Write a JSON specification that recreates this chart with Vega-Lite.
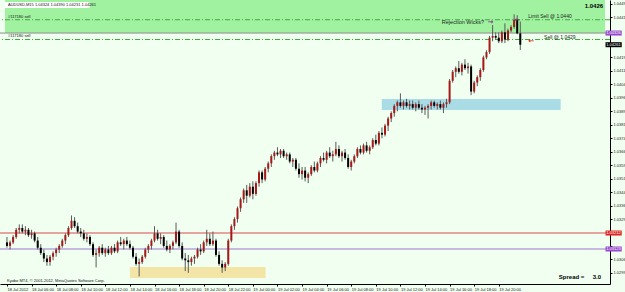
{
"$schema": "https://vega.github.io/schema/vega-lite/v6.json",
"width": 610, "height": 284,
"autosize": {"type": "none"},
"padding": {"left": 0, "top": 0, "right": 15, "bottom": 8},
"background": "#f0fff0",
"config": {"view": {"stroke": null},
"axis": {"grid": false, "labelOverlap": false, "labelFlush": false, "labelBound": false, "labelFontSize": 4, "labelFont": "Liberation Sans", "labelColor": "#222", "labelPadding": 1, "tickSize": 2, "tickColor": "#000", "domainColor": "#000", "title": null},
"axisX": {"labelAlign": "left", "labelBaseline": "top"},
"axisY": {"labelAlign": "left", "labelBaseline": "middle"}},
"datasets": {
"candles": [
{"t":"2012-07-18T04:00","o":1.0316,"h":1.0319,"l":1.0313,"c":1.0314},
{"t":"2012-07-18T04:15","o":1.0314,"h":1.0317,"l":1.0312,"c":1.0316},
{"t":"2012-07-18T04:30","o":1.0316,"h":1.0320,"l":1.0315,"c":1.0319},
{"t":"2012-07-18T04:45","o":1.0319,"h":1.0324,"l":1.0318,"c":1.0323},
{"t":"2012-07-18T05:00","o":1.0323,"h":1.0326,"l":1.0321,"c":1.0324},
{"t":"2012-07-18T05:15","o":1.0324,"h":1.0326,"l":1.0321,"c":1.0322},
{"t":"2012-07-18T05:30","o":1.0322,"h":1.0325,"l":1.0320,"c":1.0323},
{"t":"2012-07-18T05:45","o":1.0323,"h":1.0324,"l":1.0319,"c":1.0320},
{"t":"2012-07-18T06:00","o":1.0320,"h":1.0323,"l":1.0318,"c":1.0321},
{"t":"2012-07-18T06:15","o":1.0321,"h":1.0322,"l":1.0316,"c":1.0317},
{"t":"2012-07-18T06:30","o":1.0317,"h":1.0319,"l":1.0312,"c":1.0313},
{"t":"2012-07-18T06:45","o":1.0313,"h":1.0315,"l":1.0309,"c":1.0310},
{"t":"2012-07-18T07:00","o":1.0310,"h":1.0312,"l":1.0305,"c":1.0307},
{"t":"2012-07-18T07:15","o":1.0307,"h":1.0309,"l":1.0303,"c":1.0305},
{"t":"2012-07-18T07:30","o":1.0305,"h":1.0309,"l":1.0303,"c":1.0308},
{"t":"2012-07-18T07:45","o":1.0308,"h":1.0311,"l":1.0306,"c":1.0310},
{"t":"2012-07-18T08:00","o":1.0310,"h":1.0313,"l":1.0308,"c":1.0312},
{"t":"2012-07-18T08:15","o":1.0312,"h":1.0315,"l":1.0310,"c":1.0314},
{"t":"2012-07-18T08:30","o":1.0314,"h":1.0318,"l":1.0313,"c":1.0317},
{"t":"2012-07-18T08:45","o":1.0317,"h":1.0321,"l":1.0315,"c":1.0320},
{"t":"2012-07-18T09:00","o":1.0320,"h":1.0325,"l":1.0319,"c":1.0324},
{"t":"2012-07-18T09:15","o":1.0324,"h":1.0331,"l":1.0323,"c":1.0328},
{"t":"2012-07-18T09:30","o":1.0328,"h":1.0330,"l":1.0324,"c":1.0325},
{"t":"2012-07-18T09:45","o":1.0325,"h":1.0327,"l":1.0321,"c":1.0322},
{"t":"2012-07-18T10:00","o":1.0322,"h":1.0324,"l":1.0319,"c":1.0321},
{"t":"2012-07-18T10:15","o":1.0321,"h":1.0323,"l":1.0317,"c":1.0318},
{"t":"2012-07-18T10:30","o":1.0318,"h":1.0321,"l":1.0316,"c":1.0319},
{"t":"2012-07-18T10:45","o":1.0319,"h":1.0320,"l":1.0314,"c":1.0315},
{"t":"2012-07-18T11:00","o":1.0315,"h":1.0316,"l":1.0308,"c":1.0309},
{"t":"2012-07-18T11:15","o":1.0309,"h":1.0312,"l":1.0302,"c":1.0310},
{"t":"2012-07-18T11:30","o":1.0310,"h":1.0314,"l":1.0308,"c":1.0313},
{"t":"2012-07-18T11:45","o":1.0313,"h":1.0315,"l":1.0309,"c":1.0310},
{"t":"2012-07-18T12:00","o":1.0310,"h":1.0313,"l":1.0308,"c":1.0312},
{"t":"2012-07-18T12:15","o":1.0312,"h":1.0314,"l":1.0309,"c":1.0310},
{"t":"2012-07-18T12:30","o":1.0310,"h":1.0314,"l":1.0309,"c":1.0313},
{"t":"2012-07-18T12:45","o":1.0313,"h":1.0315,"l":1.0310,"c":1.0311},
{"t":"2012-07-18T13:00","o":1.0311,"h":1.0317,"l":1.0310,"c":1.0316},
{"t":"2012-07-18T13:15","o":1.0316,"h":1.0319,"l":1.0314,"c":1.0315},
{"t":"2012-07-18T13:30","o":1.0315,"h":1.0318,"l":1.0312,"c":1.0317},
{"t":"2012-07-18T13:45","o":1.0317,"h":1.0319,"l":1.0314,"c":1.0315},
{"t":"2012-07-18T14:00","o":1.0315,"h":1.0317,"l":1.0312,"c":1.0313},
{"t":"2012-07-18T14:15","o":1.0313,"h":1.0314,"l":1.0307,"c":1.0308},
{"t":"2012-07-18T14:30","o":1.0308,"h":1.0310,"l":1.0303,"c":1.0304},
{"t":"2012-07-18T14:45","o":1.0304,"h":1.0307,"l":1.0297,"c":1.0305},
{"t":"2012-07-18T15:00","o":1.0305,"h":1.0309,"l":1.0304,"c":1.0308},
{"t":"2012-07-18T15:15","o":1.0308,"h":1.0313,"l":1.0307,"c":1.0312},
{"t":"2012-07-18T15:30","o":1.0312,"h":1.0315,"l":1.0310,"c":1.0314},
{"t":"2012-07-18T15:45","o":1.0314,"h":1.0318,"l":1.0312,"c":1.0317},
{"t":"2012-07-18T16:00","o":1.0317,"h":1.0325,"l":1.0316,"c":1.0321},
{"t":"2012-07-18T16:15","o":1.0321,"h":1.0323,"l":1.0317,"c":1.0318},
{"t":"2012-07-18T16:30","o":1.0318,"h":1.0321,"l":1.0315,"c":1.0319},
{"t":"2012-07-18T16:45","o":1.0319,"h":1.0320,"l":1.0313,"c":1.0314},
{"t":"2012-07-18T17:00","o":1.0314,"h":1.0317,"l":1.0311,"c":1.0312},
{"t":"2012-07-18T17:15","o":1.0312,"h":1.0315,"l":1.0310,"c":1.0314},
{"t":"2012-07-18T17:30","o":1.0314,"h":1.0317,"l":1.0312,"c":1.0316},
{"t":"2012-07-18T17:45","o":1.0316,"h":1.0327,"l":1.0315,"c":1.0322},
{"t":"2012-07-18T18:00","o":1.0322,"h":1.0323,"l":1.0313,"c":1.0314},
{"t":"2012-07-18T18:15","o":1.0314,"h":1.0316,"l":1.0306,"c":1.0307},
{"t":"2012-07-18T18:30","o":1.0307,"h":1.0310,"l":1.0300,"c":1.0306},
{"t":"2012-07-18T18:45","o":1.0306,"h":1.0309,"l":1.0299,"c":1.0305},
{"t":"2012-07-18T19:00","o":1.0305,"h":1.0308,"l":1.0303,"c":1.0307},
{"t":"2012-07-18T19:15","o":1.0307,"h":1.0309,"l":1.0304,"c":1.0308},
{"t":"2012-07-18T19:30","o":1.0308,"h":1.0313,"l":1.0307,"c":1.0312},
{"t":"2012-07-18T19:45","o":1.0312,"h":1.0315,"l":1.0309,"c":1.0311},
{"t":"2012-07-18T20:00","o":1.0311,"h":1.0317,"l":1.0310,"c":1.0316},
{"t":"2012-07-18T20:15","o":1.0316,"h":1.0323,"l":1.0314,"c":1.0318},
{"t":"2012-07-18T20:30","o":1.0318,"h":1.0321,"l":1.0314,"c":1.0315},
{"t":"2012-07-18T20:45","o":1.0315,"h":1.0322,"l":1.0314,"c":1.0317},
{"t":"2012-07-18T21:00","o":1.0317,"h":1.0318,"l":1.0308,"c":1.0309},
{"t":"2012-07-18T21:15","o":1.0309,"h":1.0311,"l":1.0303,"c":1.0304},
{"t":"2012-07-18T21:30","o":1.0304,"h":1.0306,"l":1.0299,"c":1.0302},
{"t":"2012-07-18T21:45","o":1.0302,"h":1.0305,"l":1.0300,"c":1.0304},
{"t":"2012-07-18T22:00","o":1.0304,"h":1.0318,"l":1.0303,"c":1.0317},
{"t":"2012-07-18T22:15","o":1.0317,"h":1.0326,"l":1.0316,"c":1.0325},
{"t":"2012-07-18T22:30","o":1.0325,"h":1.0330,"l":1.0323,"c":1.0329},
{"t":"2012-07-18T22:45","o":1.0329,"h":1.0336,"l":1.0327,"c":1.0335},
{"t":"2012-07-18T23:00","o":1.0335,"h":1.0341,"l":1.0333,"c":1.0340},
{"t":"2012-07-18T23:15","o":1.0340,"h":1.0346,"l":1.0338,"c":1.0345},
{"t":"2012-07-18T23:30","o":1.0345,"h":1.0348,"l":1.0338,"c":1.0342},
{"t":"2012-07-18T23:45","o":1.0342,"h":1.0349,"l":1.0341,"c":1.0347},
{"t":"2012-07-19T00:00","o":1.0347,"h":1.0350,"l":1.0340,"c":1.0343},
{"t":"2012-07-19T00:15","o":1.0343,"h":1.0350,"l":1.0342,"c":1.0349},
{"t":"2012-07-19T00:30","o":1.0349,"h":1.0356,"l":1.0347,"c":1.0355},
{"t":"2012-07-19T00:45","o":1.0355,"h":1.0356,"l":1.0349,"c":1.0351},
{"t":"2012-07-19T01:00","o":1.0351,"h":1.0358,"l":1.0350,"c":1.0357},
{"t":"2012-07-19T01:15","o":1.0357,"h":1.0361,"l":1.0355,"c":1.0360},
{"t":"2012-07-19T01:30","o":1.0360,"h":1.0365,"l":1.0358,"c":1.0364},
{"t":"2012-07-19T01:45","o":1.0364,"h":1.0367,"l":1.0362,"c":1.0366},
{"t":"2012-07-19T02:00","o":1.0366,"h":1.0369,"l":1.0364,"c":1.0365},
{"t":"2012-07-19T02:15","o":1.0365,"h":1.0368,"l":1.0363,"c":1.0367},
{"t":"2012-07-19T02:30","o":1.0367,"h":1.0368,"l":1.0363,"c":1.0364},
{"t":"2012-07-19T02:45","o":1.0364,"h":1.0366,"l":1.0362,"c":1.0365},
{"t":"2012-07-19T03:00","o":1.0365,"h":1.0366,"l":1.0360,"c":1.0361},
{"t":"2012-07-19T03:15","o":1.0361,"h":1.0363,"l":1.0358,"c":1.0362},
{"t":"2012-07-19T03:30","o":1.0362,"h":1.0363,"l":1.0356,"c":1.0357},
{"t":"2012-07-19T03:45","o":1.0357,"h":1.0360,"l":1.0352,"c":1.0354},
{"t":"2012-07-19T04:00","o":1.0354,"h":1.0358,"l":1.0351,"c":1.0356},
{"t":"2012-07-19T04:15","o":1.0356,"h":1.0358,"l":1.0350,"c":1.0352},
{"t":"2012-07-19T04:30","o":1.0352,"h":1.0355,"l":1.0349,"c":1.0354},
{"t":"2012-07-19T04:45","o":1.0354,"h":1.0359,"l":1.0353,"c":1.0358},
{"t":"2012-07-19T05:00","o":1.0358,"h":1.0361,"l":1.0355,"c":1.0356},
{"t":"2012-07-19T05:15","o":1.0356,"h":1.0361,"l":1.0355,"c":1.0360},
{"t":"2012-07-19T05:30","o":1.0360,"h":1.0364,"l":1.0358,"c":1.0363},
{"t":"2012-07-19T05:45","o":1.0363,"h":1.0366,"l":1.0361,"c":1.0362},
{"t":"2012-07-19T06:00","o":1.0362,"h":1.0367,"l":1.0360,"c":1.0366},
{"t":"2012-07-19T06:15","o":1.0366,"h":1.0369,"l":1.0363,"c":1.0364},
{"t":"2012-07-19T06:30","o":1.0364,"h":1.0367,"l":1.0361,"c":1.0365},
{"t":"2012-07-19T06:45","o":1.0365,"h":1.0372,"l":1.0364,"c":1.0368},
{"t":"2012-07-19T07:00","o":1.0368,"h":1.0370,"l":1.0363,"c":1.0364},
{"t":"2012-07-19T07:15","o":1.0364,"h":1.0367,"l":1.0361,"c":1.0366},
{"t":"2012-07-19T07:30","o":1.0366,"h":1.0368,"l":1.0362,"c":1.0363},
{"t":"2012-07-19T07:45","o":1.0363,"h":1.0365,"l":1.0357,"c":1.0358},
{"t":"2012-07-19T08:00","o":1.0358,"h":1.0362,"l":1.0356,"c":1.0361},
{"t":"2012-07-19T08:15","o":1.0361,"h":1.0365,"l":1.0360,"c":1.0364},
{"t":"2012-07-19T08:30","o":1.0364,"h":1.0369,"l":1.0363,"c":1.0368},
{"t":"2012-07-19T08:45","o":1.0368,"h":1.0370,"l":1.0365,"c":1.0366},
{"t":"2012-07-19T09:00","o":1.0366,"h":1.0371,"l":1.0365,"c":1.0370},
{"t":"2012-07-19T09:15","o":1.0370,"h":1.0372,"l":1.0366,"c":1.0367},
{"t":"2012-07-19T09:30","o":1.0367,"h":1.0370,"l":1.0365,"c":1.0369},
{"t":"2012-07-19T09:45","o":1.0369,"h":1.0374,"l":1.0368,"c":1.0373},
{"t":"2012-07-19T10:00","o":1.0373,"h":1.0376,"l":1.0370,"c":1.0371},
{"t":"2012-07-19T10:15","o":1.0371,"h":1.0378,"l":1.0370,"c":1.0377},
{"t":"2012-07-19T10:30","o":1.0377,"h":1.0380,"l":1.0374,"c":1.0376},
{"t":"2012-07-19T10:45","o":1.0376,"h":1.0382,"l":1.0375,"c":1.0381},
{"t":"2012-07-19T11:00","o":1.0381,"h":1.0386,"l":1.0378,"c":1.0385},
{"t":"2012-07-19T11:15","o":1.0385,"h":1.0389,"l":1.0383,"c":1.0388},
{"t":"2012-07-19T11:30","o":1.0388,"h":1.0393,"l":1.0386,"c":1.0392},
{"t":"2012-07-19T11:45","o":1.0392,"h":1.0395,"l":1.0389,"c":1.0394},
{"t":"2012-07-19T12:00","o":1.0394,"h":1.0399,"l":1.0391,"c":1.0392},
{"t":"2012-07-19T12:15","o":1.0392,"h":1.0395,"l":1.0390,"c":1.0394},
{"t":"2012-07-19T12:30","o":1.0394,"h":1.0396,"l":1.0391,"c":1.0392},
{"t":"2012-07-19T12:45","o":1.0392,"h":1.0395,"l":1.0390,"c":1.0393},
{"t":"2012-07-19T13:00","o":1.0393,"h":1.0395,"l":1.0390,"c":1.0391},
{"t":"2012-07-19T13:15","o":1.0391,"h":1.0394,"l":1.0389,"c":1.0393},
{"t":"2012-07-19T13:30","o":1.0393,"h":1.0395,"l":1.0390,"c":1.0391},
{"t":"2012-07-19T13:45","o":1.0391,"h":1.0393,"l":1.0388,"c":1.0390},
{"t":"2012-07-19T14:00","o":1.0390,"h":1.0392,"l":1.0387,"c":1.0391},
{"t":"2012-07-19T14:15","o":1.0391,"h":1.0393,"l":1.0385,"c":1.0392},
{"t":"2012-07-19T14:30","o":1.0392,"h":1.0395,"l":1.0390,"c":1.0394},
{"t":"2012-07-19T14:45","o":1.0394,"h":1.0395,"l":1.0391,"c":1.0392},
{"t":"2012-07-19T15:00","o":1.0392,"h":1.0394,"l":1.0390,"c":1.0393},
{"t":"2012-07-19T15:15","o":1.0393,"h":1.0395,"l":1.0390,"c":1.0391},
{"t":"2012-07-19T15:30","o":1.0391,"h":1.0394,"l":1.0388,"c":1.0393},
{"t":"2012-07-19T15:45","o":1.0393,"h":1.0396,"l":1.0391,"c":1.0394},
{"t":"2012-07-19T16:00","o":1.0394,"h":1.0407,"l":1.0393,"c":1.0406},
{"t":"2012-07-19T16:15","o":1.0406,"h":1.0412,"l":1.0405,"c":1.0411},
{"t":"2012-07-19T16:30","o":1.0411,"h":1.0414,"l":1.0408,"c":1.0413},
{"t":"2012-07-19T16:45","o":1.0413,"h":1.0417,"l":1.0410,"c":1.0411},
{"t":"2012-07-19T17:00","o":1.0411,"h":1.0416,"l":1.0409,"c":1.0415},
{"t":"2012-07-19T17:15","o":1.0415,"h":1.0418,"l":1.0412,"c":1.0413},
{"t":"2012-07-19T17:30","o":1.0413,"h":1.0416,"l":1.0410,"c":1.0414},
{"t":"2012-07-19T17:45","o":1.0414,"h":1.0415,"l":1.0398,"c":1.0400},
{"t":"2012-07-19T18:00","o":1.0400,"h":1.0406,"l":1.0399,"c":1.0405},
{"t":"2012-07-19T18:15","o":1.0405,"h":1.0409,"l":1.0403,"c":1.0408},
{"t":"2012-07-19T18:30","o":1.0408,"h":1.0413,"l":1.0406,"c":1.0412},
{"t":"2012-07-19T18:45","o":1.0412,"h":1.0420,"l":1.0411,"c":1.0419},
{"t":"2012-07-19T19:00","o":1.0419,"h":1.0423,"l":1.0418,"c":1.0422},
{"t":"2012-07-19T19:15","o":1.0422,"h":1.0431,"l":1.0421,"c":1.0430},
{"t":"2012-07-19T19:30","o":1.0430,"h":1.0437,"l":1.0428,"c":1.0431},
{"t":"2012-07-19T19:45","o":1.0431,"h":1.0433,"l":1.0429,"c":1.0430},
{"t":"2012-07-19T20:00","o":1.0430,"h":1.0433,"l":1.0427,"c":1.0428},
{"t":"2012-07-19T20:15","o":1.0428,"h":1.0434,"l":1.0427,"c":1.0433},
{"t":"2012-07-19T20:30","o":1.0433,"h":1.0438,"l":1.0427,"c":1.0429},
{"t":"2012-07-19T20:45","o":1.0429,"h":1.0435,"l":1.0428,"c":1.0434},
{"t":"2012-07-19T21:00","o":1.0434,"h":1.0437,"l":1.0433,"c":1.0436},
{"t":"2012-07-19T21:15","o":1.0436,"h":1.0443,"l":1.0435,"c":1.0440},
{"t":"2012-07-19T21:30","o":1.0440,"h":1.04425,"l":1.0432,"c":1.04324},
{"t":"2012-07-19T21:45","o":1.04324,"h":1.0439,"l":1.04231,"c":1.04261}
]
},
"layer": [
{
"data": {"values": [{"t0":"2012-07-18T03:50:24","t1":"2012-07-20T04:38:24","p0":1.04326,"p1":1.0451}]},
"mark": {"type": "rect", "color": "#a0f2a0"},
"encoding": {
"x": {"field": "t0", "type": "temporal", "title": null,
"scale": {"domain": [{"year":2012,"month":7,"date":18,"hours":3,"minutes":50,"seconds":24},{"year":2012,"month":7,"date":20,"hours":4,"minutes":38,"seconds":24}]},
"axis": {"values": [
{"year":2012,"month":7,"date":18,"hours":4},{"year":2012,"month":7,"date":18,"hours":6},{"year":2012,"month":7,"date":18,"hours":8},{"year":2012,"month":7,"date":18,"hours":10},{"year":2012,"month":7,"date":18,"hours":12},{"year":2012,"month":7,"date":18,"hours":14},{"year":2012,"month":7,"date":18,"hours":16},{"year":2012,"month":7,"date":18,"hours":18},{"year":2012,"month":7,"date":18,"hours":20},{"year":2012,"month":7,"date":18,"hours":22},
{"year":2012,"month":7,"date":19,"hours":0},{"year":2012,"month":7,"date":19,"hours":2},{"year":2012,"month":7,"date":19,"hours":4},{"year":2012,"month":7,"date":19,"hours":6},{"year":2012,"month":7,"date":19,"hours":8},{"year":2012,"month":7,"date":19,"hours":10},{"year":2012,"month":7,"date":19,"hours":12},{"year":2012,"month":7,"date":19,"hours":14},{"year":2012,"month":7,"date":19,"hours":16},{"year":2012,"month":7,"date":19,"hours":18},{"year":2012,"month":7,"date":19,"hours":20}],
"tickCount": 100,
"labelExpr": "timeFormat(datum.value, '%d %H') == '18 04' ? '18 Jul 2012' : timeFormat(datum.value, '%d %b %H:%M')",
"labelOverlap": false}},
"x2": {"field": "t1"},
"y": {"field": "p0", "type": "quantitative", "title": null,
"scale": {"domain": [1.02928, 1.0451], "zero": false, "nice": false},
"axis": {"orient": "right", "values": [1.0449,1.04415,1.0434,1.04265,1.0419,1.04115,1.0404,1.03965,1.0389,1.03815,1.0374,1.03665,1.0359,1.03515,1.0344,1.03365,1.0329,1.03215,1.0314,1.03065,1.0299],
"tickCount": 100, "labelExpr": "datum.value == 1.04265 || datum.value == 1.03215 || datum.value == 1.0434 || datum.value == 1.0314 ? '' : format(datum.value, '.5f')", "labelOverlap": false}},
"y2": {"field": "p1"}
}
},
{
"data": {"values": [{"t0":"2012-07-18T14:00","t1":"2012-07-19T01:02","p0":1.02962,"p1":1.03023}]},
"mark": {"type": "rect", "color": "#f3e5a6"},
"encoding": {"x": {"field": "t0", "type": "temporal", "title": null}, "x2": {"field": "t1"}, "y": {"field": "p0", "type": "quantitative", "title": null}, "y2": {"field": "p1"}}
},
{
"data": {"values": [{"t0":"2012-07-19T10:29","t1":"2012-07-20T01:02","p0":1.03897,"p1":1.03959}]},
"mark": {"type": "rect", "color": "#aadce6"},
"encoding": {"x": {"field": "t0", "type": "temporal", "title": null}, "x2": {"field": "t1"}, "y": {"field": "p0", "type": "quantitative", "title": null}, "y2": {"field": "p1"}}
},
{
"data": {"values": [{"t0":"2012-07-18T03:50:24","t1":"2012-07-18T10:43","p0":1.04465,"p1":1.04499}]},
"mark": {"type": "rect", "color": "#ffffff"},
"encoding": {"x": {"field": "t0", "type": "temporal", "title": null}, "x2": {"field": "t1"}, "y": {"field": "p0", "type": "quantitative", "title": null}, "y2": {"field": "p1"}}
},
{
"data": {"values": [{"p": 1.04326}]},
"mark": {"type": "rule", "color": "#8c8c8c", "strokeWidth": 1},
"encoding": {"y": {"field": "p", "type": "quantitative", "title": null}}
},
{
"data": {"values": [{"p": 1.0440}, {"p": 1.0429}]},
"mark": {"type": "rule", "color": "#3fa63f", "strokeWidth": 1, "strokeDash": [5, 2, 1, 2]},
"encoding": {"y": {"field": "p", "type": "quantitative", "title": null}}
},
{
"data": {"values": [{"p": 1.03212}]},
"mark": {"type": "rule", "color": "#e6a4a0", "strokeWidth": 2},
"encoding": {"y": {"field": "p", "type": "quantitative", "title": null}}
},
{
"data": {"values": [{"p": 1.03123}]},
"mark": {"type": "rule", "color": "#b9a3dc", "strokeWidth": 1.5},
"encoding": {"y": {"field": "p", "type": "quantitative", "title": null}}
},
{
"data": {"name": "candles"},
"mark": {"type": "rule", "color": "#5a5a5a", "strokeWidth": 1},
"encoding": {"x": {"field": "t", "type": "temporal", "title": null}, "y": {"field": "l", "type": "quantitative", "title": null}, "y2": {"field": "h"}}
},
{
"data": {"name": "candles"},
"mark": {"type": "bar", "size": 2},
"encoding": {"x": {"field": "t", "type": "temporal", "title": null}, "y": {"field": "o", "type": "quantitative", "title": null}, "y2": {"field": "c"},
"color": {"condition": {"test": "datum.c > datum.o", "value": "#a81818"}, "value": "#000000"}}
},
{
"data": {"values": [
{"t":"2012-07-18T04:05","p":1.04482,"label":"AUDUSD,M15  1.04324 1.04390 1.04231 1.04261"},
{"t":"2012-07-18T04:05","p":1.04418,"label":"#117180 sell"},
{"t":"2012-07-18T04:05","p":1.04307,"label":"#117180 sell"},
{"t":"2012-07-18T04:00","p":1.02944,"label":"Kyobo MT4, © 2001-2012, MetaQuotes Software Corp."}]},
"mark": {"type": "text", "align": "left", "baseline": "middle", "fontSize": 4, "font": "Liberation Sans", "color": "#111"},
"encoding": {"x": {"field": "t", "type": "temporal", "title": null}, "y": {"field": "p", "type": "quantitative", "title": null}, "text": {"field": "label"}}
},
{
"data": {"values": [{"t":"2012-07-19T18:48","p":1.04387,"label":"Rejection Wicks?"}]},
"mark": {"type": "text", "align": "right", "baseline": "middle", "fontSize": 5.5, "font": "Liberation Sans", "color": "#222"},
"encoding": {"x": {"field": "t", "type": "temporal", "title": null}, "y": {"field": "p", "type": "quantitative", "title": null}, "text": {"field": "label"}}
},
{
"data": {"values": [
{"t":"2012-07-19T22:24","p":1.04421,"label":"Limit Sell @ 1.0440"},
{"t":"2012-07-19T23:41","p":1.04304,"label":"Sell @ 1.0429"}]},
"mark": {"type": "text", "align": "left", "baseline": "middle", "fontSize": 5, "font": "Liberation Sans", "color": "#222"},
"encoding": {"x": {"field": "t", "type": "temporal", "title": null}, "y": {"field": "p", "type": "quantitative", "title": null}, "text": {"field": "label"}}
},
{
"data": {"values": [
{"t":"2012-07-19T19:19","p":1.04387,"label":"→"},
{"t":"2012-07-19T21:31","p":1.04399,"label":"←"}]},
"mark": {"type": "text", "align": "center", "baseline": "middle", "fontSize": 7, "fontWeight": "bold", "font": "DejaVu Sans", "color": "#8b2f8b"},
"encoding": {"x": {"field": "t", "type": "temporal", "title": null}, "y": {"field": "p", "type": "quantitative", "title": null}, "text": {"field": "label"}}
},
{
"data": {"values": [{"t":"2012-07-19T22:38","p":1.04282,"label":"←"}]},
"mark": {"type": "text", "align": "center", "baseline": "middle", "fontSize": 7, "fontWeight": "bold", "font": "DejaVu Sans", "color": "#e02020"},
"encoding": {"x": {"field": "t", "type": "temporal", "title": null}, "y": {"field": "p", "type": "quantitative", "title": null}, "text": {"field": "label"}}
},
{
"data": {"values": [
{"t":"2012-07-20T04:29","p":1.04477,"label":"1.0426"},
{"t":"2012-07-20T04:19","p":1.02967,"label":"3.0"}]},
"mark": {"type": "text", "align": "right", "baseline": "middle", "fontSize": 6, "fontWeight": "bold", "font": "Liberation Sans", "color": "#000"},
"encoding": {"x": {"field": "t", "type": "temporal", "title": null}, "y": {"field": "p", "type": "quantitative", "title": null}, "text": {"field": "label"}}
},
{
"data": {"values": [{"t":"2012-07-20T00:53","p":1.02967,"label":"Spread ="}]},
"mark": {"type": "text", "align": "left", "baseline": "middle", "fontSize": 6, "fontWeight": "bold", "font": "Liberation Sans", "color": "#000"},
"encoding": {"x": {"field": "t", "type": "temporal", "title": null}, "y": {"field": "p", "type": "quantitative", "title": null}, "text": {"field": "label"}}
},
{
"data": {"values": [
{"t0":"2012-07-20T04:41","t1":"2012-07-20T06:00","p0":1.04312,"p1":1.0434,"kind":"order"},
{"t0":"2012-07-20T04:41","t1":"2012-07-20T06:00","p0":1.04247,"p1":1.04275,"kind":"bid"},
{"t0":"2012-07-20T04:41","t1":"2012-07-20T06:00","p0":1.03198,"p1":1.03226,"kind":"stop"},
{"t0":"2012-07-20T04:41","t1":"2012-07-20T06:00","p0":1.03109,"p1":1.03137,"kind":"order"}]},
"mark": {"type": "rect"},
"encoding": {"x": {"field": "t0", "type": "temporal", "title": null}, "x2": {"field": "t1"}, "y": {"field": "p0", "type": "quantitative", "title": null}, "y2": {"field": "p1"},
"color": {"field": "kind", "type": "nominal", "legend": null, "scale": {"domain": ["order", "bid", "stop"], "range": ["#9a48d0", "#000000", "#e02424"]}}}
},
{
"data": {"values": [
{"t":"2012-07-20T04:44","p":1.04326,"label":"1.04326"},
{"t":"2012-07-20T04:44","p":1.04261,"label":"1.04261"},
{"t":"2012-07-20T04:44","p":1.03212,"label":"1.03212"},
{"t":"2012-07-20T04:44","p":1.03123,"label":"1.03123"}]},
"mark": {"type": "text", "align": "left", "baseline": "middle", "fontSize": 4, "font": "Liberation Sans", "color": "#ffffff"},
"encoding": {"x": {"field": "t", "type": "temporal", "title": null}, "y": {"field": "p", "type": "quantitative", "title": null}, "text": {"field": "label"}}
}
]
}
